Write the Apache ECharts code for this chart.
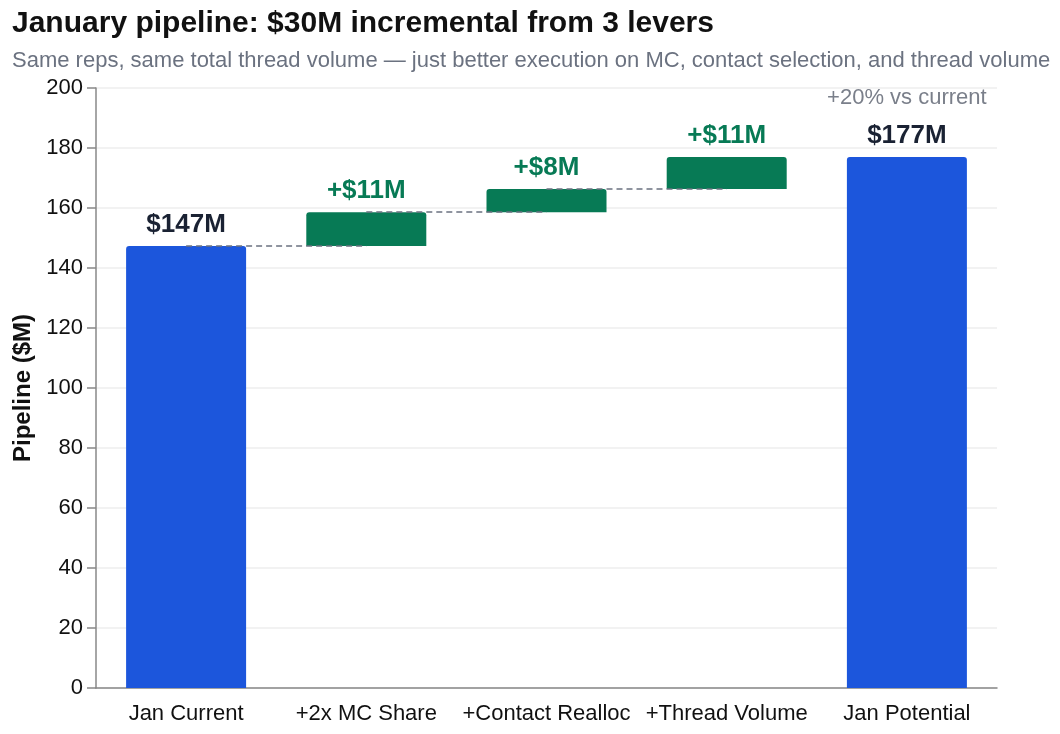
<!DOCTYPE html>
<html><head><meta charset="utf-8">
<script src="https://cdn.jsdelivr.net/npm/echarts@6/dist/echarts.min.js"></script>
<style>html,body{margin:0;padding:0;background:#fff}#c{width:1060px;height:734px}</style>
</head><body><div id="c"></div>
<script>
const categories = ['Jan Current', '+2x MC Share', '+Contact Realloc', '+Thread Volume', 'Jan Potential'];
const kinds = ['total', 'delta', 'delta', 'delta', 'total'];
const baseValue = 147.3;
const deltas = [11.3, 7.7, 10.7];
const yTicks = { min: 0, max: 200, interval: 20 };

const F = '"Liberation Sans", Arial, Helvetica, sans-serif';
const BLUE = '#1c56dc', GREEN = '#077a55', DARK = '#1a2233', GRAY = '#6b7280';

// build waterfall
const bases = [], heights = [], tops = [];
let run = baseValue;
const total = baseValue + deltas.reduce((a, b) => a + b, 0);
categories.forEach((c, i) => {
  if (i === 0) { bases.push(0); heights.push(baseValue); tops.push(baseValue); }
  else if (kinds[i] === 'delta') { const d = deltas[i - 1]; bases.push(run); heights.push(d); run += d; tops.push(run); }
  else { bases.push(0); heights.push(total); tops.push(total); }
});
const pct = Math.round((total - baseValue) / baseValue * 100);

const barData = heights.map((h, i) => {
  const isT = kinds[i] === 'total';
  const item = { value: h, itemStyle: { color: isT ? BLUE : GREEN, borderRadius: [3, 3, 0, 0] } };
  if (!isT) item.label = { color: GREEN };
  if (i === categories.length - 1) {
    item.label = {
      formatter: '{a|+' + pct + '% vs current}\n{b|$' + Math.round(total) + 'M}',
      rich: {
        a: { fontFamily: F, fontSize: 22, fontWeight: 'normal', color: '#7a7f8a', lineHeight: 50 },
        b: { fontFamily: F, fontSize: 26, fontWeight: 'bold', color: DARK, lineHeight: 26 }
      }
    };
  }
  return item;
});

const connectors = [];
for (let i = 0; i < categories.length - 2; i++) {
  connectors.push([{ coord: [categories[i], tops[i]] }, { coord: [categories[i + 1], tops[i]] }]);
}

const chart = echarts.init(document.getElementById('c'), null, { renderer: 'canvas' });
chart.setOption({
  animation: false,
  title: [
    { text: 'January pipeline: $30M incremental from 3 levers', left: 12, top: 9, padding: 0,
      textStyle: { fontFamily: F, fontSize: 30, fontWeight: 'bold', color: '#111' } },
    { text: 'Same reps, same total thread volume \u2014 just better execution on MC, contact selection, and thread volume',
      left: 12, top: 50, padding: 0, textStyle: { fontFamily: F, fontSize: 22, fontWeight: 'normal', color: GRAY } }
  ],
  grid: { left: 96, right: 63, top: 88, bottom: 46, containLabel: false },
  xAxis: {
    type: 'category', data: categories,
    axisLine: { lineStyle: { color: '#888', width: 1.5 } },
    axisTick: { alignWithLabel: true, length: 9, lineStyle: { color: '#888', width: 1.5 } },
    axisLabel: { interval: 0, fontFamily: F, fontSize: 22, color: '#111', margin: 15 },
    splitLine: { show: false }
  },
  yAxis: {
    type: 'value', min: yTicks.min, max: yTicks.max, interval: yTicks.interval,
    name: 'Pipeline ($M)', nameLocation: 'middle', nameGap: 56, nameRotate: 90,
    nameTextStyle: { fontFamily: F, fontSize: 24, fontWeight: 'bold', color: '#111' },
    axisLine: { show: true, lineStyle: { color: '#888', width: 1.5 } },
    axisTick: { show: true, length: 9, lineStyle: { color: '#888', width: 1.5 } },
    axisLabel: { fontFamily: F, fontSize: 22, color: '#111', margin: 13 },
    splitLine: { lineStyle: { color: '#eeeeee', width: 1.5 } }
  },
  series: [
    { type: 'bar', stack: 'w', data: bases, barWidth: 120, itemStyle: { color: 'transparent' }, silent: true },
    { type: 'bar', stack: 'w', data: barData, barWidth: 120, z: 3,
      label: {
        show: true, position: 'top', distance: 8,
        fontFamily: F, fontSize: 26, fontWeight: 'bold',
        formatter: p => kinds[p.dataIndex] === 'total' ? '$' + Math.round(p.value) + 'M' : '+$' + Math.round(p.value) + 'M',
        color: DARK
      },
      markLine: {
        silent: true, symbol: 'none', label: { show: false },
        lineStyle: { type: [6, 4], color: '#6b7280', width: 1.5 },
        data: connectors
      }
    }
  ]
});
</script></body></html>
